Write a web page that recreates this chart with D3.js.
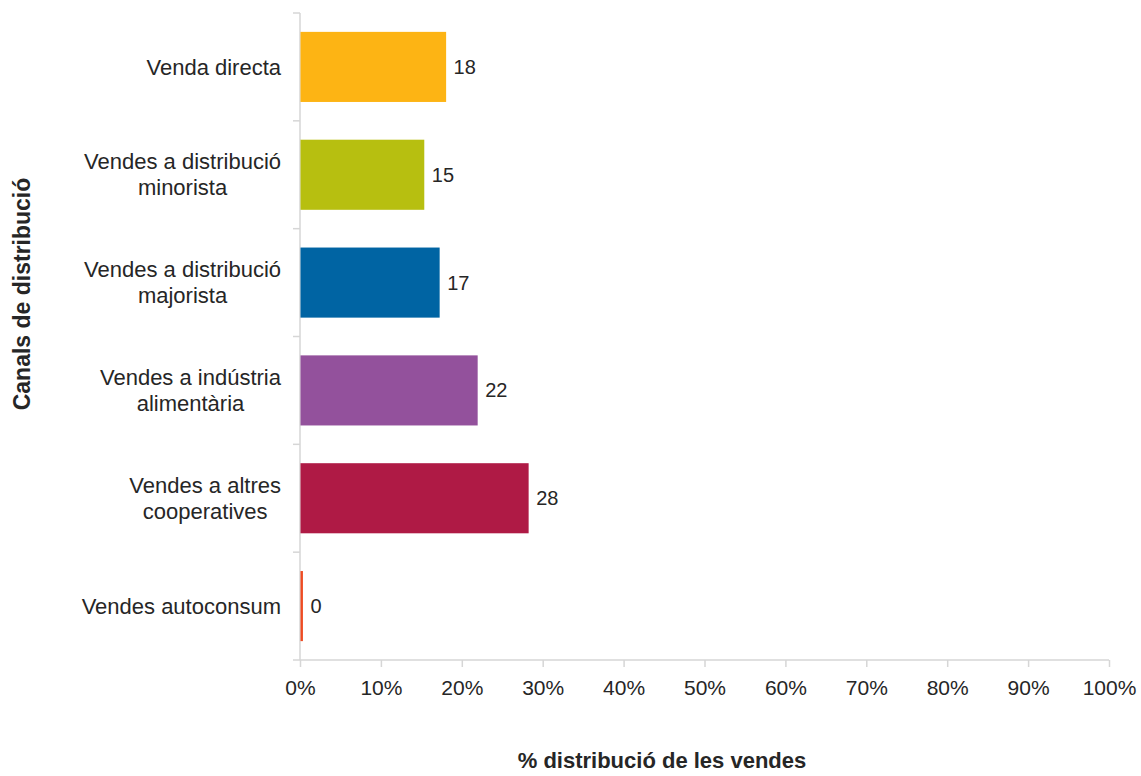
<!DOCTYPE html>
<html>
<head>
<meta charset="utf-8">
<script src="https://cdn.jsdelivr.net/npm/d3@7"></script>
<style>
  html, body { margin: 0; padding: 0; background: #fff; }
  svg { display: block; font-family: "Liberation Sans", Arial, Helvetica, sans-serif; }
</style>
</head>
<body>
<svg id="chart" width="1141" height="776"></svg>
<script>
// Distribution channels (top to bottom) and their share of sales (%)
const categories = [
  ["Venda directa"],
  ["Vendes a distribució", "minorista"],
  ["Vendes a distribució", "majorista"],
  ["Vendes a indústria", "alimentària"],
  ["Vendes a altres", "cooperatives"],
  ["Vendes autoconsum"]
];
const values = [18.0, 15.3, 17.2, 21.9, 28.2, 0.3];
const colors = ["#FDB414", "#B7BF10", "#0064A3", "#93519C", "#AF1A45", "#EE4B22"];
const xTicks = [0, 10, 20, 30, 40, 50, 60, 70, 80, 90, 100];
const xTitle = "% distribució de les vendes";
const yTitle = "Canals de distribució";

const svg = d3.select("#chart");
const margin = { left: 300, right: 32, top: 13, bottom: 116 };
const W = 1141, H = 776;
const textColor = "#262626";
const axisColor = "#d6d6d6";

const x = d3.scaleLinear().domain([0, 100]).range([margin.left, W - margin.right]);
const y = d3.scaleBand().domain(d3.range(categories.length))
  .range([margin.top, H - margin.bottom]).paddingInner(0.35).paddingOuter(0.175);

// Band boundaries used for the category tick marks
const step = y.step();
const boundaries = d3.range(categories.length + 1).map(i => margin.top + i * step);

// x axis
const xAxis = d3.axisBottom(x).tickValues(xTicks).tickFormat(d => d + "%")
  .tickSize(7).tickSizeOuter(0).tickPadding(13);
const gx = svg.append("g").attr("transform", `translate(0,${H - margin.bottom})`).call(xAxis);
gx.select(".domain").attr("stroke", axisColor).attr("stroke-width", 1.5)
  .attr("d", `M${margin.left - 7},0H${x(100)}`);
gx.selectAll(".tick line").attr("stroke", axisColor).attr("stroke-width", 1.5);
gx.selectAll(".tick text").attr("fill", textColor).attr("font-size", 21)
  .attr("font-family", "Liberation Sans, Arial, sans-serif");

// y axis line and boundary ticks
const gy = svg.append("g");
gy.append("line").attr("x1", margin.left).attr("x2", margin.left)
  .attr("y1", margin.top).attr("y2", H - margin.bottom)
  .attr("stroke", axisColor).attr("stroke-width", 1.5);
gy.selectAll("line.tick").data(boundaries.slice(0, -1)).join("line")
  .attr("class", "tick")
  .attr("x1", margin.left - 7).attr("x2", margin.left)
  .attr("y1", d => d).attr("y2", d => d)
  .attr("stroke", axisColor).attr("stroke-width", 1.5);

// bars
svg.append("g").selectAll("rect").data(values).join("rect")
  .attr("x", x(0) + 0.5)
  .attr("y", (d, i) => y(i))
  .attr("width", d => x(d) - x(0))
  .attr("height", y.bandwidth())
  .attr("fill", (d, i) => colors[i]);

// value labels
svg.append("g").selectAll("text").data(values).join("text")
  .attr("x", d => x(d) + 8)
  .attr("y", (d, i) => y(i) + y.bandwidth() / 2)
  .attr("dy", "0.35em")
  .attr("fill", textColor).attr("font-size", 20)
  .text(d => Math.round(d));

// category labels, multi-line blocks centred and right-aligned to the axis
const labelRight = 281;
const lineH = 26;
categories.forEach((lines, i) => {
  const cy = y(i) + y.bandwidth() / 2;
  const g = svg.append("g");
  const t = g.append("text").attr("fill", textColor).attr("font-size", 22).attr("text-anchor", "middle");
  lines.forEach((ln, j) => {
    t.append("tspan").attr("x", 0)
      .attr("y", cy + (j - (lines.length - 1) / 2) * lineH)
      .attr("dy", "0.35em").text(ln);
  });
  const w = d3.max(t.selectAll("tspan").nodes(), n => n.getComputedTextLength());
  g.attr("transform", `translate(${labelRight - w / 2},0)`);
});

// axis titles
svg.append("text").attr("x", 662).attr("y", 768)
  .attr("text-anchor", "middle").attr("font-weight", "bold").attr("font-size", 22)
  .attr("fill", textColor).text(xTitle);
svg.append("text")
  .attr("transform", "translate(30,294) rotate(-90)")
  .attr("text-anchor", "middle").attr("font-weight", "bold").attr("font-size", 23)
  .attr("fill", textColor).text(yTitle);
</script>
</body>
</html>
